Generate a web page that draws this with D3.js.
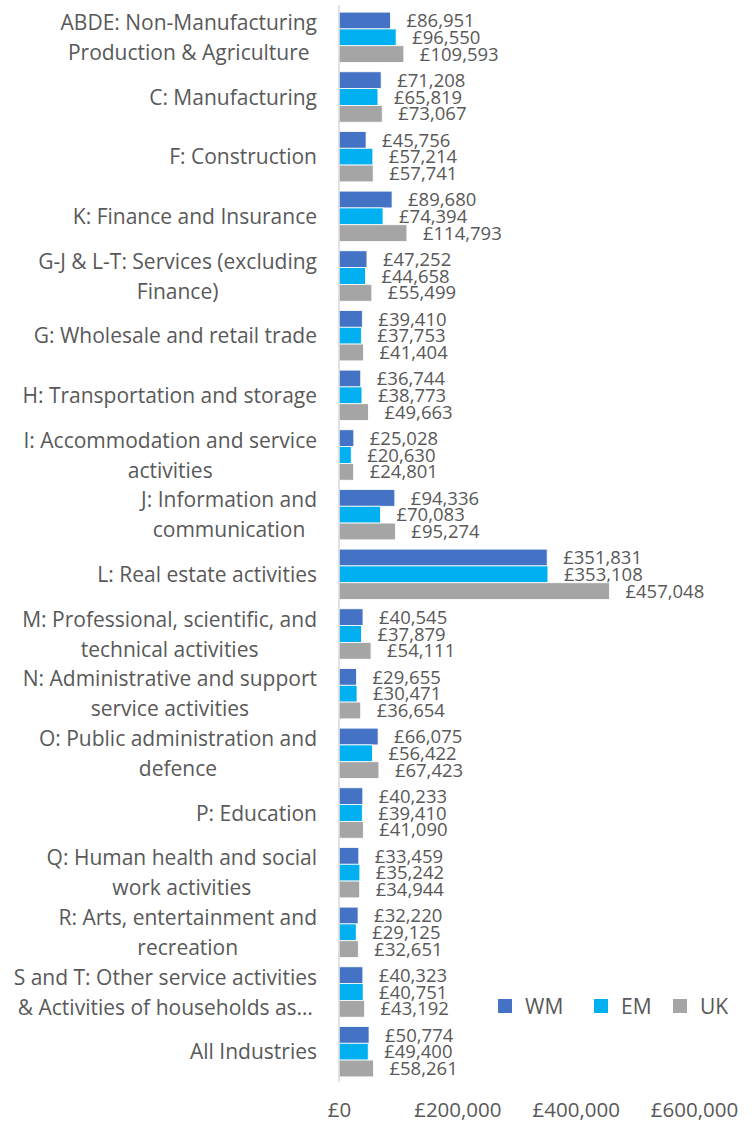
<!DOCTYPE html>
<html>
<head>
<meta charset="utf-8">
<script src="https://cdn.jsdelivr.net/npm/d3@7"></script>
<style>
  html, body { margin: 0; padding: 0; background: #fff; }
  svg { display: block; }
  text { font-family: "Open Sans", sans-serif; fill: #595959; }
</style>
</head>
<body>
<svg id="chart" width="755" height="1122"></svg>
<script>
const categories = [
  "ABDE: Non-Manufacturing\nProduction & Agriculture",
  "C: Manufacturing",
  "F: Construction",
  "K: Finance and Insurance",
  "G-J & L-T: Services (excluding\nFinance)",
  "G: Wholesale and retail trade",
  "H: Transportation and storage",
  "I: Accommodation and service\nactivities",
  "J: Information and\ncommunication",
  "L: Real estate activities",
  "M: Professional, scientific, and\ntechnical activities",
  "N: Administrative and support\nservice activities",
  "O: Public administration and\ndefence",
  "P: Education",
  "Q: Human health and social\nwork activities",
  "R: Arts, entertainment and\nrecreation",
  "S and T: Other service activities\n& Activities of households as…",
  "All Industries"
];
const seriesNames = ["WM", "EM", "UK"];
const wmValues = [86951, 71208, 45756, 89680, 47252, 39410, 36744, 25028, 94336, 351831, 40545, 29655, 66075, 40233, 33459, 32220, 40323, 50774];
const emValues = [96550, 65819, 57214, 74394, 44658, 37753, 38773, 20630, 70083, 353108, 37879, 30471, 56422, 39410, 35242, 29125, 40751, 49400];
const ukValues = [109593, 73067, 57741, 114793, 55499, 41404, 49663, 24801, 95274, 457048, 54111, 36654, 67423, 41090, 34944, 32651, 43192, 58261];
const xTicks = [0, 200000, 400000, 600000];
const colors = ["#4472C4", "#00B0F0", "#A5A5A5"];

const seriesValues = [wmValues, emValues, ukValues];
const svg = d3.select("#chart");

const x = d3.scaleLinear().domain([0, 600000]).range([339, 694]);
const y = d3.scaleBand().domain(categories).range([7.5, 1081.5]).paddingInner(0.155).paddingOuter(0.0775);
const ys = d3.scaleBand().domain(seriesNames).range([0, y.bandwidth()]);
const fmt = v => "£" + d3.format(",")(v);

// bars
const groups = svg.append("g").selectAll("g")
  .data(categories).join("g")
  .attr("transform", d => `translate(0,${y(d)})`);

seriesNames.forEach((s, si) => {
  groups.append("rect")
    .attr("x", x(0))
    .attr("y", ys(s))
    .attr("width", (d, i) => x(seriesValues[si][i]) - x(0))
    .attr("height", ys.bandwidth())
    .attr("fill", colors[si])
    .attr("stroke", "#ffffff")
    .attr("stroke-width", 0.8);
  groups.append("text")
    .attr("x", (d, i) => x(seriesValues[si][i]) + 16)
    .attr("y", ys(s) + ys.bandwidth() / 2)
    .attr("dy", "0.36em")
    .attr("font-size", "18.5px")
    .text((d, i) => fmt(seriesValues[si][i]));
});

// vertical axis line
svg.append("line")
  .attr("x1", x(0)).attr("x2", x(0))
  .attr("y1", 5).attr("y2", 1082)
  .attr("stroke", "#D9D9D9").attr("stroke-width", 1.5);

// category labels: block right-aligned at 317, lines centered within the block
const fs = 21, lh = 30, rightEdge = 317;
const catG = svg.append("g").selectAll("text").data(categories).join("text")
  .attr("font-size", fs + "px")
  .attr("y", d => y(d) + y.bandwidth() / 2);
catG.each(function(d) {
  const lines = d.split("\n");
  const t = d3.select(this);
  const spans = lines.map((ln, i) => t.append("tspan")
    .attr("dy", i === 0 ? (0.36 * fs - (lines.length - 1) * lh / 2) + "px" : lh + "px")
    .text(ln));
  const maxW = d3.max(spans, s => s.node().getComputedTextLength());
  const cx = rightEdge - maxW / 2;
  t.attr("text-anchor", "middle");
  spans.forEach(s => s.attr("x", cx));
});

// x axis tick labels
const xAxis = d3.axisBottom(x).tickValues(xTicks).tickFormat(fmt).tickSize(0).tickPadding(0);
const ax = svg.append("g").attr("transform", "translate(0,1102)").call(xAxis);
ax.select(".domain").remove();
ax.selectAll("text").attr("font-size", "20.5px").attr("fill", "#595959")
  .style("font-family", "'Open Sans', sans-serif");

// legend
const legendX = [498, 594, 673];
const lg = svg.append("g").selectAll("g").data(seriesNames).join("g")
  .attr("transform", (d, i) => `translate(${legendX[i]},999)`);
lg.append("rect").attr("width", 14).attr("height", 14).attr("fill", (d, i) => colors[i]);
lg.append("text").attr("x", 27).attr("y", 7).attr("dy", "0.36em")
  .attr("font-size", "21px").text(d => d);
</script>
</body>
</html>
